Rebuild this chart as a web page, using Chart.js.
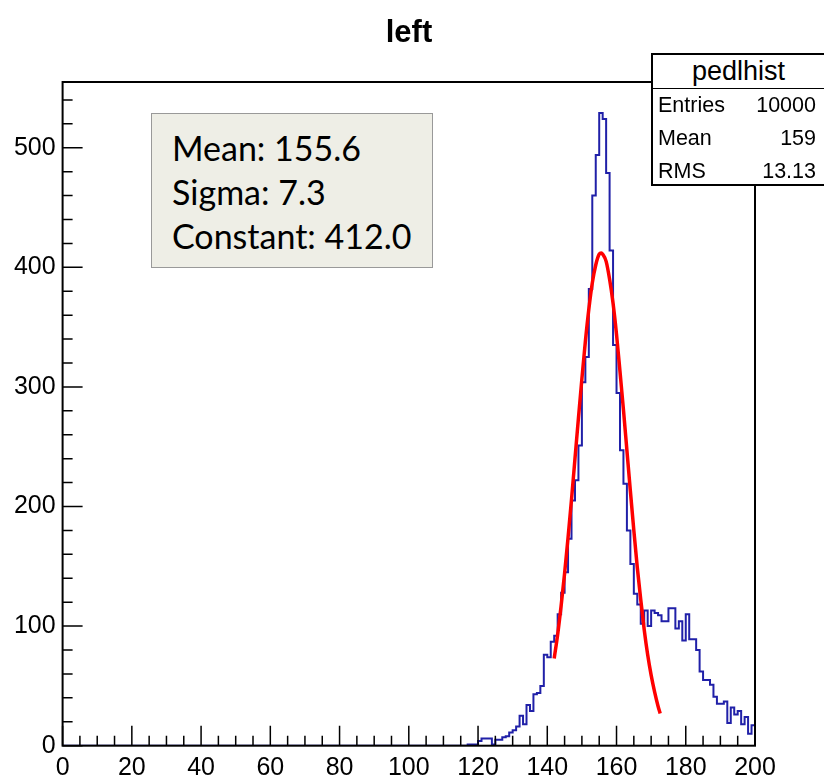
<!DOCTYPE html>
<html>
<head>
<meta charset="utf-8">
<title>left</title>
<script src="https://cdn.jsdelivr.net/npm/chart.js@4/dist/chart.umd.min.js"></script>
<style>
  html, body { margin: 0; padding: 0; background: #fff; overflow: hidden; }
  #wrap { position: relative; width: 824px; height: 777px; overflow: hidden; }
  #chart { position: absolute; left: 0; top: 0; }

  .title {
    position: absolute; left: 0; top: 16px; width: 818px; text-align: center;
    font-family: "Liberation Sans", Arial, sans-serif; font-weight: bold;
    font-size: 31px; line-height: 31px; color: #000;
  }

  /* ROOT stats box, top right */
  .stats {
    position: absolute; left: 651px; top: 53px; width: 173px; height: 133px;
    box-sizing: border-box; border: 2px solid #000; border-right: none;
    background: #fff; color: #000;
    font-family: "Liberation Sans", Arial, sans-serif;
  }
  .stats .head {
    height: 33px; line-height: 33px; text-align: center; font-size: 27px;
    border-bottom: 1.5px solid #000;
  }
  .stats .row {
    position: relative; height: 33px; line-height: 33px; font-size: 21.5px;
    padding: 0 8px 0 5px;
  }
  .stats .row span { position: absolute; right: 8px; }

  /* fit result box */
  .fitbox {
    position: absolute; left: 151px; top: 113px; width: 282px; height: 155px;
    box-sizing: border-box; border: 1.5px solid #999;
    background: #eeeee6; color: #000;
    font-family: Lato, "Open Sans", sans-serif; font-size: 34px;
    line-height: 44px; padding: 12px 0 0 20px;
  }
</style>
</head>
<body>
<div id="wrap">
  <canvas id="chart" width="824" height="777"></canvas>
  <div class="title">left</div>
  <div class="fitbox">
    <div>Mean: 155.6</div>
    <div>Sigma: 7.3</div>
    <div>Constant: 412.0</div>
  </div>
  <div class="stats">
    <div class="head">pedlhist</div>
    <div class="row">Entries<span>10000</span></div>
    <div class="row">Mean<span>159</span></div>
    <div class="row">RMS<span>13.13</span></div>
  </div>
</div>
<script>
// histogram: one unit wide bins, everything below binLow is empty
const binLow = 117;
const counts = [
  1, 1, 1, 4, 6, 6, 6, 1, 5, 5, 7, 8, 11, 13, 16, 25, 18, 34, 29, 43, 44, 50, 76, 74, 87,
  92, 110, 128, 145, 173, 205, 222, 251, 304, 325, 382, 460, 494, 529, 524, 479, 414,
  335, 295, 247, 219, 180, 152, 127, 118,
  102, 113, 100, 113, 111, 109, 104, 104, 115, 115, 98, 104, 88, 110, 89, 89, 80, 62,
  55, 55, 51, 41, 35, 35, 37, 19, 32, 26, 29, 18, 24, 10, 17
];

// gaussian fit curve
const fitX = [142, 143, 144, 145, 146, 147, 148, 149, 150, 151, 152, 153, 154, 155, 155.6,
  156, 157, 158, 159, 160, 161, 162, 163, 164, 165, 166, 167, 168, 169, 170, 171, 172, 172.6];
const fitY = [73, 93, 117, 144, 174, 206, 240, 274, 307, 338, 365, 387, 402, 411, 412,
  411, 405, 390, 370, 344, 313, 281, 247, 213, 180, 149, 122, 97, 76, 59, 45, 33, 27];

const xTicks = [0, 20, 40, 60, 80, 100, 120, 140, 160, 180, 200];
const yTicks = [0, 100, 200, 300, 400, 500];
const xMax = 200, yMax = 555;

const histPoints = [{ x: 0, y: 0 }];
counts.forEach((c, i) => histPoints.push({ x: binLow + i, y: c }));
histPoints.push({ x: binLow + counts.length, y: counts[counts.length - 1] });

const fitPoints = fitX.map((x, i) => ({ x: x, y: fitY[i] }));

// ROOT style frame with ticks pointing inwards
const frameTicks = {
  id: "frameTicks",
  afterDatasetsDraw(chart) {
    const { ctx, chartArea: a, scales } = chart;
    ctx.save();
    ctx.strokeStyle = "#000";
    ctx.lineWidth = 2;
    ctx.strokeRect(a.left, a.top, a.right - a.left, a.bottom - a.top);
    ctx.lineWidth = 1.5;
    ctx.beginPath();
    for (let v = 0; v < yMax; v += 20) {
      const py = scales.y.getPixelForValue(v);
      const len = v % 100 === 0 ? 20 : 10;
      ctx.moveTo(a.left, py);
      ctx.lineTo(a.left + len, py);
    }
    for (let v = 0; v <= xMax; v += 5) {
      const px = scales.x.getPixelForValue(v);
      const len = v % 20 === 0 ? 20 : 10;
      ctx.moveTo(px, a.bottom);
      ctx.lineTo(px, a.bottom - len);
    }
    ctx.stroke();
    ctx.restore();
  }
};

const tickFont = { family: "'Liberation Sans', Arial, sans-serif", size: 25 };

new Chart(document.getElementById("chart").getContext("2d"), {
  type: "line",
  data: {
    datasets: [
      {
        label: "fit",
        data: fitPoints,
        borderColor: "#ff0000",
        borderWidth: 3.5,
        pointRadius: 0,
        cubicInterpolationMode: "monotone",
        fill: false
      },
      {
        label: "pedlhist",
        data: histPoints,
        borderColor: "#2020a8",
        borderWidth: 2,
        pointRadius: 0,
        stepped: true,
        fill: false
      }
    ]
  },
  options: {
    responsive: false,
    animation: false,
    devicePixelRatio: 1,
    layout: { padding: { top: 82, right: 69, bottom: 0, left: 0 } },
    plugins: {
      legend: { display: false },
      tooltip: { enabled: false },
      title: { display: false }
    },
    scales: {
      x: {
        type: "linear",
        min: 0,
        max: xMax,
        grid: { display: false, drawTicks: false },
        border: { display: false },
        ticks: { color: "#000", font: tickFont, padding: 7, maxRotation: 0, autoSkip: false },
        afterBuildTicks: s => { s.ticks = xTicks.map(v => ({ value: v })); },
        afterFit: s => { s.height = 31.3; }
      },
      y: {
        type: "linear",
        min: 0,
        max: yMax,
        grid: { display: false, drawTicks: false },
        border: { display: false },
        ticks: { color: "#000", font: tickFont, padding: 7, autoSkip: false },
        afterBuildTicks: s => { s.ticks = yTicks.map(v => ({ value: v })); },
        afterFit: s => { s.width = 62.6; }
      }
    }
  },
  plugins: [frameTicks]
});
</script>
</body>
</html>
